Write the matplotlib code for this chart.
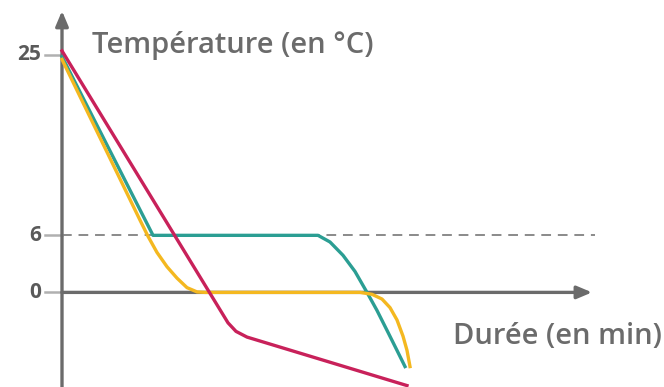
import matplotlib.pyplot as plt

t_vert = [0, 9.1, 25.6, 26.8, 28.1, 29.3, 30.5, 31.5, 32.6, 33.5, 34.3]
T_vert = [24.8, 6, 6, 5.3, 3.9, 2.2, 0, -1.9, -4.2, -6.1, -7.8]

t_jaune = [0, 7.8, 8.6, 9.5, 10.5, 11.5, 12.5, 13.5, 14.3,
           29.8, 31.0, 32.0, 32.8, 33.5, 34.1, 34.5, 34.8]
T_jaune = [24.5, 7.6, 5.9, 4.2, 2.7, 1.5, 0.5, 0.05, 0,
           0, -0.2, -0.7, -1.6, -2.9, -4.6, -6.1, -7.8]

t_rouge = [0, 16.6, 17.4, 18.5, 34.5]
T_rouge = [25.4, -3.2, -4.1, -4.7, -9.8]

ticks = [25, 6, 0]
tick_labels = ["25", "6", "0"]

gris = "#6b6b6b"
font = ["Open Sans", "DejaVu Sans"]

fig = plt.figure(figsize=(6.64, 3.87), dpi=100)
ax = fig.add_axes([0, 0, 1, 1])
ax.set_xlim(-6.2, 60.2)
ax.set_ylim(-9.95, 30.75)
ax.axis("off")

# axes avec flèches
ax.annotate("", xy=(0, 29.6), xytext=(0, -10.5),
            arrowprops=dict(arrowstyle="-|>,head_length=0.9,head_width=0.38",
                            color=gris, lw=2.4, shrinkA=0, shrinkB=0))
ax.annotate("", xy=(53.0, 0), xytext=(0, 0),
            arrowprops=dict(arrowstyle="-|>,head_length=0.9,head_width=0.38",
                            color=gris, lw=2.4, shrinkA=0, shrinkB=0))

# ligne pointillée à 6 °C
ax.plot([0, 53.3], [6, 6], color="#8a8a8a", lw=1.4, ls=(0, (5, 3.5)), zorder=1)

# graduations
for v, lab in zip(ticks, tick_labels):
    ax.plot([-1.7, 0], [v, v], color="#b0b0b0", lw=1.8, zorder=1)
    ax.text(-2.1, v, lab, ha="right", va="center", fontsize=15,
            color="#5a5a5a", family=font, fontweight="bold")

ax.plot(t_vert, T_vert, color="#2b9e93", lw=2.4, solid_joinstyle="round", zorder=3)
ax.plot(t_jaune, T_jaune, color="#f4b820", lw=2.4, solid_joinstyle="round", zorder=4)
ax.plot(t_rouge, T_rouge, color="#c8215a", lw=2.4, solid_joinstyle="round", zorder=5)

ax.text(3.0, 26.0, "Température (en °C)", ha="left", va="center", fontsize=21,
        color=gris, family=font, fontweight="semibold")
ax.text(60.0, -4.6, "Durée (en min)", ha="right", va="center", fontsize=21,
        color=gris, family=font, fontweight="semibold")

fig.savefig("out.png", dpi=100)
